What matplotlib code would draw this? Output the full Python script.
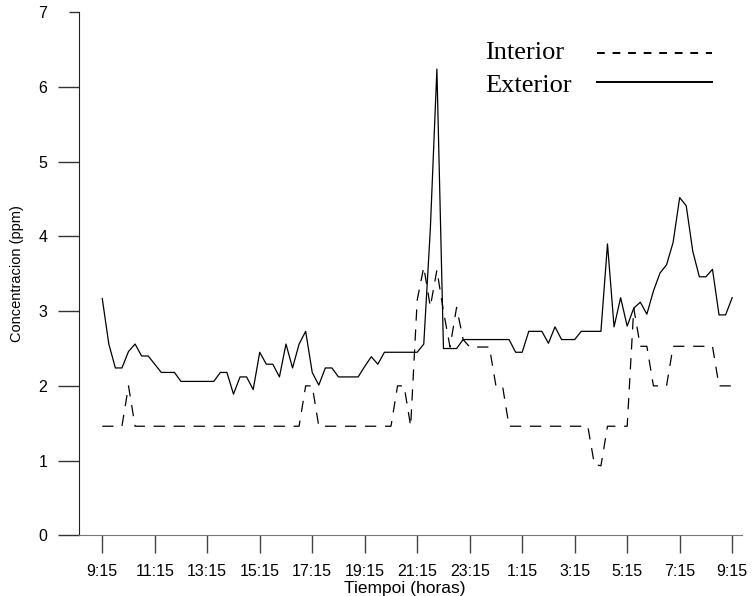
import matplotlib
matplotlib.use("Agg")
import matplotlib.pyplot as plt
from matplotlib.lines import Line2D
import numpy as np

# 15-minute readings, 9:15 to 9:15 the next day
interior = [
    1.46, 1.46, 1.46, 1.46, 2.00, 1.46, 1.46, 1.46, 1.46, 1.46,
    1.46, 1.46, 1.46, 1.46, 1.46, 1.46, 1.46, 1.46, 1.46, 1.46,
    1.46, 1.46, 1.46, 1.46, 1.46, 1.46, 1.46, 1.46, 1.46, 1.46,
    1.46, 2.00, 2.00, 1.46, 1.46, 1.46, 1.46, 1.46, 1.46, 1.46,
    1.46, 1.46, 1.46, 1.46, 1.46, 2.00, 2.00, 1.46, 3.15, 3.59,
    3.06, 3.55, 3.00, 2.52, 3.05, 2.62, 2.52, 2.52, 2.52, 2.52,
    2.00, 2.00, 1.46, 1.46, 1.46, 1.46, 1.46, 1.46, 1.46, 1.46,
    1.46, 1.46, 1.46, 1.46, 1.46, 0.95, 0.93, 1.46, 1.46, 1.46,
    1.46, 3.04, 2.53, 2.53, 2.00, 2.00, 2.00, 2.53, 2.53, 2.53,
    2.53, 2.53, 2.53, 2.53, 2.00, 2.00, 2.00,
]
exterior = [
    3.17, 2.56, 2.24, 2.24, 2.46, 2.56, 2.40, 2.40, 2.29, 2.18,
    2.18, 2.18, 2.06, 2.06, 2.06, 2.06, 2.06, 2.06, 2.18, 2.18,
    1.89, 2.12, 2.12, 1.95, 2.45, 2.29, 2.29, 2.12, 2.56, 2.24,
    2.56, 2.73, 2.18, 2.01, 2.24, 2.24, 2.12, 2.12, 2.12, 2.12,
    2.26, 2.39, 2.29, 2.45, 2.45, 2.45, 2.45, 2.45, 2.45, 2.56,
    4.10, 6.24, 2.50, 2.50, 2.50, 2.62, 2.62, 2.62, 2.62, 2.62,
    2.62, 2.62, 2.62, 2.45, 2.45, 2.73, 2.73, 2.73, 2.57, 2.79,
    2.62, 2.62, 2.62, 2.73, 2.73, 2.73, 2.73, 3.90, 2.79, 3.18,
    2.80, 3.04, 3.12, 2.96, 3.27, 3.51, 3.62, 3.92, 4.52, 4.41,
    3.80, 3.46, 3.46, 3.56, 2.95, 2.95, 3.18,
]
series_names = ["Interior", "Exterior"]
tick_labels = ["9:15", "11:15", "13:15", "15:15", "17:15", "19:15", "21:15",
               "23:15", "1:15", "3:15", "5:15", "7:15", "9:15"]
y_ticks = [0, 1, 2, 3, 4, 5, 6, 7]

sans = ["Liberation Sans", "DejaVu Sans"]
serif = ["Liberation Serif", "DejaVu Serif"]

fig = plt.figure(figsize=(7.53, 5.96), dpi=100)
ax = fig.add_axes([0.1053, 0.1018, 0.8801, 0.8776])

x = np.arange(len(exterior))
ax.plot(x, interior, color="black", lw=0.9, linestyle=(0, (9.0, 7.0)))
ax.plot(x, exterior, color="black", lw=0.9)

ax.set_xlim(-3.5, 97.5)
ax.set_ylim(0, 7)

n_ticks = len(tick_labels)
ax.set_xticks(np.linspace(0, len(exterior) - 1, n_ticks))
ax.set_xticklabels(tick_labels, fontfamily=sans, fontsize=11.5)
ax.set_yticks(y_ticks)
ax.set_yticklabels([str(v) for v in y_ticks], fontfamily=sans, fontsize=11.5)

ax.tick_params(axis="x", direction="out", length=13, width=1.0,
               color="#444444", pad=7.5)
ax.tick_params(axis="y", direction="out", length=15, width=1.0,
               color="#333333", pad=8)
# shorter tick at the top of the y axis
ax.yaxis.get_major_ticks()[-1].tick1line.set_markersize(7)

for side in ("top", "right"):
    ax.spines[side].set_visible(False)
ax.spines["left"].set_color("#222222")
ax.spines["bottom"].set_color("#777777")

ax.set_xlabel("Tiempoi (horas)", fontfamily=sans, fontsize=12.5)
ax.xaxis.set_label_coords(0.4915, -0.088)
ax.set_ylabel("Concentracion (ppm)", fontfamily=sans, fontsize=10.5)
ax.yaxis.set_label_coords(-0.083, 0.5)

# key in the upper right: names on the left, line samples on the right
key_styles = [(0, (4.0, 4.0)), "solid"]
key_text_y = [0.9010, 0.8456]
key_line_y = [0.9116, 0.8629]
for name, style, ty, ly in zip(series_names, key_styles, key_text_y, key_line_y):
    fig.text(0.6441, ty, name, fontfamily=serif, fontsize=19,
             ha="left", va="baseline")
    fig.add_artist(Line2D([0.7928, 0.9456], [ly, ly], transform=fig.transFigure,
                          color="black", lw=1.4, linestyle=style))

fig.savefig("out.png", dpi=100)
